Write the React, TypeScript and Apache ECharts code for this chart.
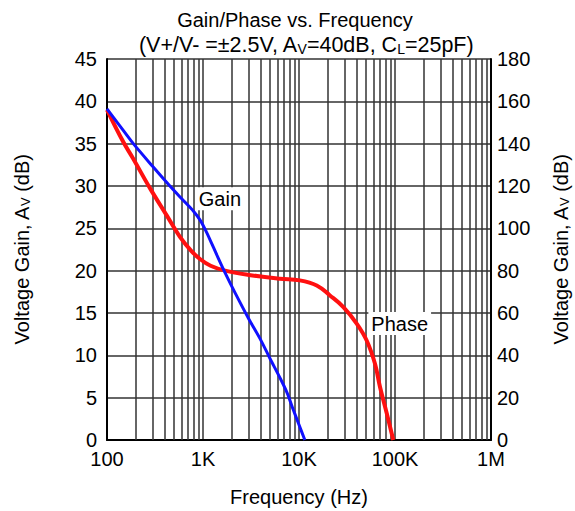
import React, { useEffect, useRef } from "react";
import * as echarts from "echarts";

const gainData: [number, number][] = [
  [100, 39.1], [130, 37.4], [188, 35], [300, 32.3], [452, 30], [600, 28.5], [800, 27.0],
  [930, 26.0], [1050, 24.9], [1200, 23.5], [1400, 21.8], [1690, 19.8], [2200, 17.2],
  [3000, 14.3], [4000, 11.8], [5000, 9.6], [6300, 7.4], [7500, 5.6], [8700, 3.6],
  [10000, 1.8], [11500, 0],
];
const phaseData: [number, number][] = [
  [100, 156], [147, 141], [187, 133], [280, 119], [420, 106], [575, 96], [750, 89.5],
  [930, 85.5], [1200, 82.3], [1700, 80], [3000, 78], [6340, 76.2], [10200, 75.4],
  [15300, 73], [21000, 68.3], [29000, 62.8], [39900, 55], [50700, 47], [61900, 36],
  [69800, 25], [82000, 12.6], [96000, 0],
];
const gainLabel: [number, number] = [1500, 28.5];
const phaseLabel: [number, number] = [112000, 55];
const minorFreqs: number[] = [];
[100, 1000, 10000, 100000].forEach((d) => {
  for (let k = 2; k <= 9; k++) minorFreqs.push(d * k);
});
const xTickNames: Record<number, string> = { 100: "100", 1000: "1K", 10000: "10K", 100000: "100K", 1000000: "1M" };

const FONT = "Liberation Sans, Arial, sans-serif";
const GRID = "#333";
const FS = 20;
const subRich = {
  sub: { fontSize: 13, fontFamily: FONT, color: "#000", verticalAlign: "bottom" as const, lineHeight: 14, padding: [9, 0, 0, 0] },
};
const subRichTitle = {
  sub: { fontSize: 14, fontFamily: FONT, color: "#000", verticalAlign: "bottom" as const, lineHeight: 14, padding: [9, 0, 0, 0] },
};

export default function App() {
  const ref = useRef<HTMLDivElement>(null);
  useEffect(() => {
    const chart = echarts.init(ref.current!, null, { renderer: "svg" });
    const yName = "Voltage Gain, A{sub|V} (dB)";
    chart.setOption({
      animation: false,
      textStyle: { fontFamily: FONT },
      title: [
        { text: "Gain/Phase vs. Frequency", left: 290, top: 5, textAlign: "center",
          textStyle: { fontSize: FS, fontWeight: "normal", color: "#000", fontFamily: FONT } },
        { text: "(V+/V- =±2.5V, A{sub|V}=40dB, C{sub|L}=25pF)", left: 301, top: 29, textAlign: "center",
          textStyle: { fontSize: 21.5, fontWeight: "normal", color: "#000", fontFamily: FONT, rich: subRichTitle } },
      ],
      grid: { left: 107, right: 84, top: 59, bottom: 71, outerBoundsMode: "none", containLabel: false },
      xAxis: {
        type: "log", logBase: 10, min: 100, max: 1000000,
        name: "Frequency (Hz)", nameLocation: "middle", nameGap: 47,
        nameTextStyle: { fontSize: FS, color: "#000", fontFamily: FONT },
        axisLine: { lineStyle: { color: "#000", width: 2 } },
        axisTick: { show: false },
        axisLabel: { fontSize: FS, color: "#000", margin: 9, formatter: (v: number) => xTickNames[Math.round(v)] ?? "" },
        splitLine: { show: true, lineStyle: { color: GRID, width: 1.5 } },
      },
      yAxis: [
        {
          type: "value", min: 0, max: 45, interval: 5,
          name: yName, nameLocation: "middle", nameGap: 75,
          nameTextStyle: { fontSize: FS, color: "#000", fontFamily: FONT, rich: subRich },
          axisLine: { show: true, lineStyle: { color: "#000", width: 2 } },
          axisTick: { show: false },
          axisLabel: { fontSize: FS, color: "#000", margin: 10 },
          splitLine: { show: true, lineStyle: { color: GRID, width: 1.5 } },
        },
        {
          type: "value", min: 0, max: 180, interval: 20,
          name: yName, nameLocation: "middle", nameGap: 60, nameRotate: 90,
          nameTextStyle: { fontSize: FS, color: "#000", fontFamily: FONT, rich: subRich },
          axisLine: { show: true, lineStyle: { color: "#000", width: 2 } },
          axisTick: { show: false },
          axisLabel: { fontSize: FS, color: "#000", margin: 6 },
          splitLine: { show: false },
        },
      ],
      series: [
        {
          type: "line", name: "Gain", data: gainData, yAxisIndex: 0, smooth: 0.3,
          showSymbol: false, lineStyle: { color: "#1010ff", width: 3 }, z: 5,
          markLine: {
            silent: true, symbol: "none", label: { show: false },
            lineStyle: { color: GRID, width: 1.5, type: "solid" },
            data: minorFreqs.map((f) => ({ xAxis: f })),
            z: 1,
          },
          markPoint: {
            symbol: "rect", symbolSize: 0,
            data: [{ coord: gainLabel, value: "Gain" }],
            label: { show: true, formatter: "Gain", fontSize: FS, color: "#000", backgroundColor: "#fff", padding: [2, 3, 1, 3], fontFamily: FONT },
          },
        },
        {
          type: "line", name: "Phase", data: phaseData, yAxisIndex: 1, smooth: 0.4,
          showSymbol: false, lineStyle: { color: "#ff1010", width: 4 }, z: 4,
          markPoint: {
            symbol: "rect", symbolSize: 0,
            data: [{ coord: phaseLabel, value: "Phase" }],
            label: { show: true, formatter: "Phase", fontSize: FS, color: "#000", backgroundColor: "#fff", padding: [2, 3, 1, 3], fontFamily: FONT },
          },
        },
      ],
    });
    return () => chart.dispose();
  }, []);
  return <div ref={ref} style={{ width: 575, height: 511, position: "absolute", left: 0, top: 0 }} />;
}
